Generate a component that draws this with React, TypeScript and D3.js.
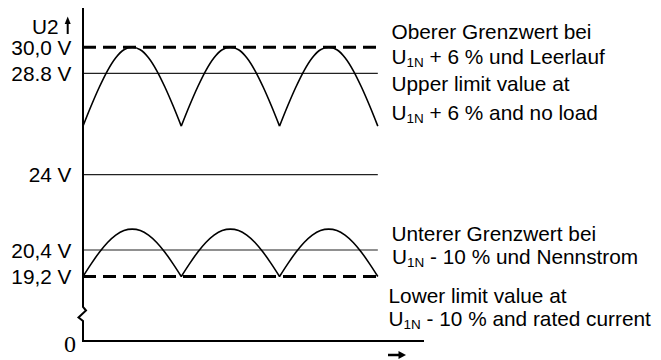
import React from "react";
import * as d3 from "d3";

// ---- data ----
const levelValues = [30.0, 28.8, 24, 20.4, 19.2];
const levelLabels = ["30,0 V", "28.8 V", "24 V", "20,4 V", "19,2 V"];
const levelDashed = [true, false, false, false, true];

// rectified-sine half-wave profile (fraction of ripple)
const halfWaveProfile = [0, 0.26, 0.5, 0.71, 0.87, 0.97, 1, 0.97, 0.87, 0.71, 0.5, 0.26, 0];
const halfWaveCount = 3;
const upperWaveMin = 26.3;
const upperWaveMax = 30.0;
const lowerWaveMin = 19.2;
const lowerWaveMax = 21.4;

const yAxisTitle = "U2";
const originLabel = "0";

const upperNoteLines = [
  { sub: false, text: "Oberer Grenzwert bei" },
  { sub: true, text: " + 6 % und Leerlauf" },
  { sub: false, text: "Upper limit value at" },
  { sub: true, text: " + 6 % and no load" },
];
const lowerNoteLines = [
  { sub: false, text: "Unterer Grenzwert bei" },
  { sub: true, text: " - 10 % und Nennstrom" },
  { sub: false, text: "Lower limit value at" },
  { sub: true, text: " - 10 % and rated current" },
];

export default function App() {
  const W = 661;
  const H = 360;
  const axisX = 83;

  // schematic (piecewise) vertical scale
  const y = d3
    .scaleLinear()
    .domain([0, 19.2, 20.4, 24, 28.8, 30])
    .range([341, 276.5, 250, 174.7, 73.3, 47.3]);
  const x = d3.scaleLinear().domain([0, 3.47]).range([axisX, 424]);

  const line = d3
    .line<[number, number]>()
    .x((d) => x(d[0]))
    .y((d) => y(d[1]))
    .curve(d3.curveMonotoneX);

  const wavePath = (mn: number, mx: number) => {
    let p = "";
    for (let k = 0; k < halfWaveCount; k++) {
      const pts: [number, number][] = halfWaveProfile.map((f, i) => [
        k + i / (halfWaveProfile.length - 1),
        mn + (mx - mn) * f,
      ]);
      p += line(pts);
    }
    return p;
  };

  const lineEnd = x(halfWaveCount);
  const font = "Liberation Sans, Arial, Helvetica, sans-serif";
  const fs = 20.8;

  const renderNote = (
    lines: { sub: boolean; text: string }[],
    xs: number[],
    baselines: number[]
  ) =>
    lines.map((l, i) => (
      <text key={i} x={xs[i]} y={baselines[i]} fontFamily={font} fontSize={fs} fill="#000">
        {l.sub ? (
          <>
            <tspan>U</tspan>
            <tspan fontSize={13.5} dy={3.5}>1N</tspan>
            <tspan dy={-3.5}>{l.text}</tspan>
          </>
        ) : (
          l.text
        )}
      </text>
    ));

  const zero = y(0);

  return (
    <svg
      width={W}
      height={H}
      style={{ position: "absolute", left: 0, top: 0, background: "#fff" }}
    >
      <rect x={0} y={0} width={W} height={H} fill="#fff" />
      {/* reference levels */}
      {levelValues.map((v, i) => (
        <line
          key={i}
          x1={axisX}
          x2={lineEnd}
          y1={y(v)}
          y2={y(v)}
          stroke={levelDashed[i] ? "#000" : "#222"}
          strokeWidth={levelDashed[i] ? 3 : 1.2}
          strokeDasharray={levelDashed[i] ? "13 7" : undefined}
        />
      ))}
      {levelValues.map((v, i) => (
        <text
          key={"l" + i}
          x={71.5}
          y={y(v) + 7.5}
          textAnchor="end"
          fontFamily={font}
          fontSize={fs}
          fill="#000"
        >
          {levelLabels[i]}
        </text>
      ))}
      {/* waves */}
      <path d={wavePath(upperWaveMin, upperWaveMax)} fill="none" stroke="#000" strokeWidth={1.6} />
      <path d={wavePath(lowerWaveMin, lowerWaveMax)} fill="none" stroke="#000" strokeWidth={1.6} />
      {/* y axis with break */}
      <path
        d={`M${axisX},8 L${axisX},307 L${axisX + 3},310.5 L${axisX - 4.5},317.5 L${axisX},321 L${axisX},${zero + 1}`}
        fill="none"
        stroke="#000"
        strokeWidth={2}
        strokeLinejoin="miter"
      />
      {/* x axis */}
      <line x1={axisX - 1} x2={x.range()[1]} y1={zero} y2={zero} stroke="#000" strokeWidth={2} />
      {/* x arrow */}
      <line x1={388} x2={400} y1={355} y2={355} stroke="#000" strokeWidth={2.5} />
      <polygon points="406,355 398.5,351 398.5,359" fill="#000" />
      {/* y title + arrow */}
      <text x={58.5} y={34} textAnchor="end" fontFamily={font} fontSize={fs} fill="#000">
        {yAxisTitle}
      </text>
      <line x1={67.7} x2={67.7} y1={34} y2={22} stroke="#000" strokeWidth={2} />
      <polygon points="67.7,16.5 64.7,24 70.7,24" fill="#000" />
      {/* origin */}
      <text
        x={70}
        y={352}
        textAnchor="middle"
        fontFamily="Liberation Serif, Times New Roman, serif"
        fontSize={24}
        fill="#000"
      >
        {originLabel}
      </text>
      {/* notes */}
      {renderNote(upperNoteLines, [391.5, 391.5, 391.5, 391.5], [38.5, 63.5, 91, 119.5])}
      {renderNote(lowerNoteLines, [391.5, 392, 388.5, 388.5], [241, 263.5, 303, 325.5])}
    </svg>
  );
}
